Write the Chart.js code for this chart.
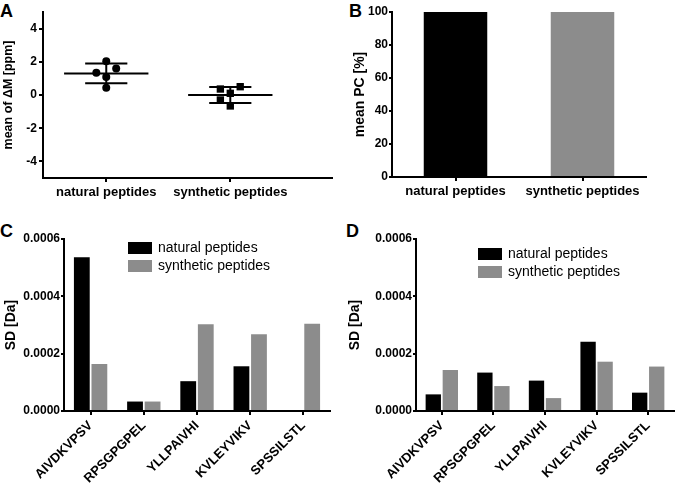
<!DOCTYPE html>
<html><head><meta charset="utf-8">
<script src="https://cdn.jsdelivr.net/npm/chart.js@4.4.1/dist/chart.umd.min.js"></script>
<style>
body{margin:0;background:#fff;width:675px;height:485px;position:relative;overflow:hidden;font-family:"Liberation Sans",Arial,sans-serif}
.pl{position:absolute;font-weight:bold;font-size:18px;line-height:18px;color:#000}
canvas{position:absolute}
</style></head><body>
<div class="pl" style="left:0px;top:2px">A</div>
<div class="pl" style="left:349px;top:2px">B</div>
<div class="pl" style="left:0px;top:222px">C</div>
<div class="pl" style="left:346px;top:222px">D</div>
<canvas id="cA" width="340" height="215" style="left:0;top:0"></canvas>
<canvas id="cB" width="335" height="215" style="left:340px;top:0"></canvas>
<canvas id="cC" width="340" height="263" style="left:0;top:222px"></canvas>
<canvas id="cD" width="335" height="263" style="left:340px;top:222px"></canvas>
<script>
// ---- data ----
const groupLabels = ['natural peptides', 'synthetic peptides'];
const naturalDeltaM = [2.04, 1.6, 1.34, 1.08, 0.44];
const syntheticDeltaM = [0.5, 0.36, 0.1, -0.3, -0.66];
const deltaMTicks = [-4, -2, 0, 2, 4];
const meanPC = [100, 100];
const pcTicks = [0, 20, 40, 60, 80, 100];
const peptides = ['AIVDKVPSV', 'RPSGPGPEL', 'YLLPAIVHI', 'KVLEYVIKV', 'SPSSILSTL'];
const sdNaturalC = [0.000536, 0.000033, 0.000104, 0.000156, 0];
const sdSyntheticC = [0.000164, 0.000033, 0.000303, 0.000268, 0.000304];
const sdNaturalD = [0.000058, 0.000134, 0.000106, 0.000242, 0.000064];
const sdSyntheticD = [0.000143, 0.000087, 0.000045, 0.000172, 0.000155];
const sdTicks = [0, 0.0002, 0.0004, 0.0006];
const seriesLabels = ['natural peptides', 'synthetic peptides'];

// ---- styles ----
const FONT = '"Liberation Sans", Arial, sans-serif';
Chart.defaults.font.family = FONT;
Chart.defaults.color = '#000';
const BLACK = '#000000';
const GRAY = '#8c8c8c';

function mean(a){ return a.reduce((s,v)=>s+v,0)/a.length; }
function sd(a){ const m = mean(a); return Math.sqrt(a.reduce((s,v)=>s+(v-m)*(v-m),0)/(a.length-1)); }

// simple beeswarm placement (layout only)
function swarm(values, center, stepX, minDy){
  const order = values.map((v,i)=>i).sort((a,b)=>values[a]-values[b]);
  const placed = []; const out = new Array(values.length);
  order.forEach(i => {
    const v = values[i];
    for (const k of [0,-1,1,-2,2,-3,3]) {
      if (!placed.some(p => p.k === k && Math.abs(p.v - v) < minDy)) {
        placed.push({k, v}); out[i] = {x: center + k*stepX, y: v}; break;
      }
    }
  });
  return out;
}

function meanSdLines(values, center){
  const m = mean(values), s = sd(values);
  const base = {type:'line', showLine:true, pointRadius:0, borderColor:BLACK, borderWidth:2, fill:false};
  return [
    Object.assign({data:[{x:center-0.34,y:m},{x:center+0.34,y:m}]}, base),
    Object.assign({data:[{x:center,y:m-s},{x:center,y:m+s}]}, base),
    Object.assign({data:[{x:center-0.17,y:m+s},{x:center+0.17,y:m+s}]}, base),
    Object.assign({data:[{x:center-0.17,y:m-s},{x:center+0.17,y:m-s}]}, base),
  ];
}

const customLegend = {
  id: 'customLegend',
  afterDraw(chart, args, opts){
    if (!opts || !opts.show) return;
    const ctx = chart.ctx;
    ctx.save();
    ctx.font = '14px ' + FONT;
    ctx.textBaseline = 'middle';
    ctx.textAlign = 'left';
    chart.data.datasets.forEach((ds, i) => {
      const y = opts.y + i*opts.row;
      ctx.fillStyle = ds.backgroundColor;
      ctx.fillRect(opts.x, y, 24, 12);
      ctx.fillStyle = '#000';
      ctx.fillText(ds.label, opts.x + 30, y + 6.5);
    });
    ctx.restore();
  }
};

const axisGrid = {display:true, drawOnChartArea:false, drawTicks:true, tickLength:4, color:BLACK, lineWidth:2};
const axisBorder = {display:true, color:BLACK, width:2};
const tickFont = {family:FONT, size:12, weight:'bold'};
const catFont = {family:FONT, size:13, weight:'bold'};

// ---- Panel A ----
new Chart(document.getElementById('cA'), {
  type: 'scatter',
  data: { datasets: [
    {data: swarm(naturalDeltaM, 1, 0.08, 0.55), pointStyle:'circle', pointRadius:4, backgroundColor:BLACK, borderColor:BLACK, borderWidth:0},
    {data: swarm(syntheticDeltaM, 2, 0.08, 0.55), pointStyle:'rect', pointRadius:5.2, backgroundColor:BLACK, borderColor:BLACK, borderWidth:0},
    ...meanSdLines(naturalDeltaM, 1),
    ...meanSdLines(syntheticDeltaM, 2)
  ]},
  options: {
    responsive:false, animation:false,
    layout:{padding:{top:12, right:8, left:0, bottom:0}},
    plugins:{legend:{display:false}, tooltip:{enabled:false}},
    scales:{
      x:{type:'linear', min:0.49, max:2.82,
         afterBuildTicks(ax){ ax.ticks = [{value:1},{value:2}]; },
         afterFit(s){ s.height = 37; },
         ticks:{font:catFont, padding:3, callback:(v)=>groupLabels[Math.round(v)-1]},
         grid:axisGrid, border:axisBorder},
      y:{min:-5, max:5,
         afterBuildTicks(ax){ ax.ticks = deltaMTicks.map(v=>({value:v})); },
         afterFit(s){ s.width = 43; },
         ticks:{font:tickFont, padding:2},
         grid:axisGrid, border:axisBorder,
         title:{display:true, text:'mean of \u0394M [ppm]', font:{family:FONT, size:12.5, weight:'bold'}, padding:{top:1,bottom:0}}}
    }
  }
});

// ---- Panel B ----
new Chart(document.getElementById('cB'), {
  type: 'bar',
  data: { labels: groupLabels, datasets: [
    {data: meanPC, backgroundColor:[BLACK, GRAY], borderWidth:0, barPercentage:0.5, categoryPercentage:1}
  ]},
  options: {
    responsive:false, animation:false,
    layout:{padding:{top:12, right:29, left:0, bottom:0}},
    plugins:{legend:{display:false}, tooltip:{enabled:false}},
    scales:{
      x:{afterFit(s){ s.height = 38; },
         ticks:{font:catFont, padding:3},
         grid:Object.assign({}, axisGrid, {offset:false}), border:axisBorder},
      y:{min:0, max:100,
         afterBuildTicks(ax){ ax.ticks = pcTicks.map(v=>({value:v})); },
         afterFit(s){ s.width = 52; },
         ticks:{font:tickFont, padding:1},
         grid:Object.assign({}, axisGrid, {tickLength:3}), border:axisBorder,
         title:{display:true, text:'mean PC [%]', font:{family:FONT, size:14, weight:'bold'}, padding:{top:12,bottom:0}}}
    }
  }
});

// ---- Panels C & D ----
function sdChart(id, nat, syn, yAxisW, padRight, titlePad, legendPos){
  return new Chart(document.getElementById(id), {
    type: 'bar',
    data: { labels: peptides, datasets: [
      {label: seriesLabels[0], data: nat, backgroundColor:BLACK, borderWidth:0, barPercentage:0.9, categoryPercentage:0.66},
      {label: seriesLabels[1], data: syn, backgroundColor:GRAY, borderWidth:0, barPercentage:0.9, categoryPercentage:0.66}
    ]},
    plugins:[customLegend],
    options: {
      responsive:false, animation:false,
      layout:{padding:{top:17, right:padRight, left:0, bottom:0}},
      plugins:{legend:{display:false}, tooltip:{enabled:false}, customLegend:Object.assign({show:true, row:18}, legendPos)},
      scales:{
        x:{afterFit(s){ s.height = 74; },
           ticks:{font:{family:FONT, size:13, weight:'bold'}, padding:3, minRotation:45, maxRotation:45, autoSkip:false},
           grid:Object.assign({}, axisGrid, {offset:false}), border:axisBorder},
        y:{min:0, max:0.0006,
           afterBuildTicks(ax){ ax.ticks = sdTicks.map(v=>({value:v})); },
           afterFit(s){ s.width = yAxisW; },
           ticks:{font:tickFont, padding:1, callback:(v)=>Number(v).toFixed(4)},
           grid:Object.assign({}, axisGrid, {tickLength:3}), border:axisBorder,
           title:{display:true, text:'SD [Da]', font:{family:FONT, size:14, weight:'bold'}, padding:{top:titlePad,bottom:0}}}
      }
    }
  });
}
sdChart('cC', sdNaturalC, sdSyntheticC, 64, 10, 3, {x:128, y:20});
sdChart('cD', sdNaturalD, sdSyntheticD, 76, 1, 7, {x:138, y:26});
</script>
</body></html>
